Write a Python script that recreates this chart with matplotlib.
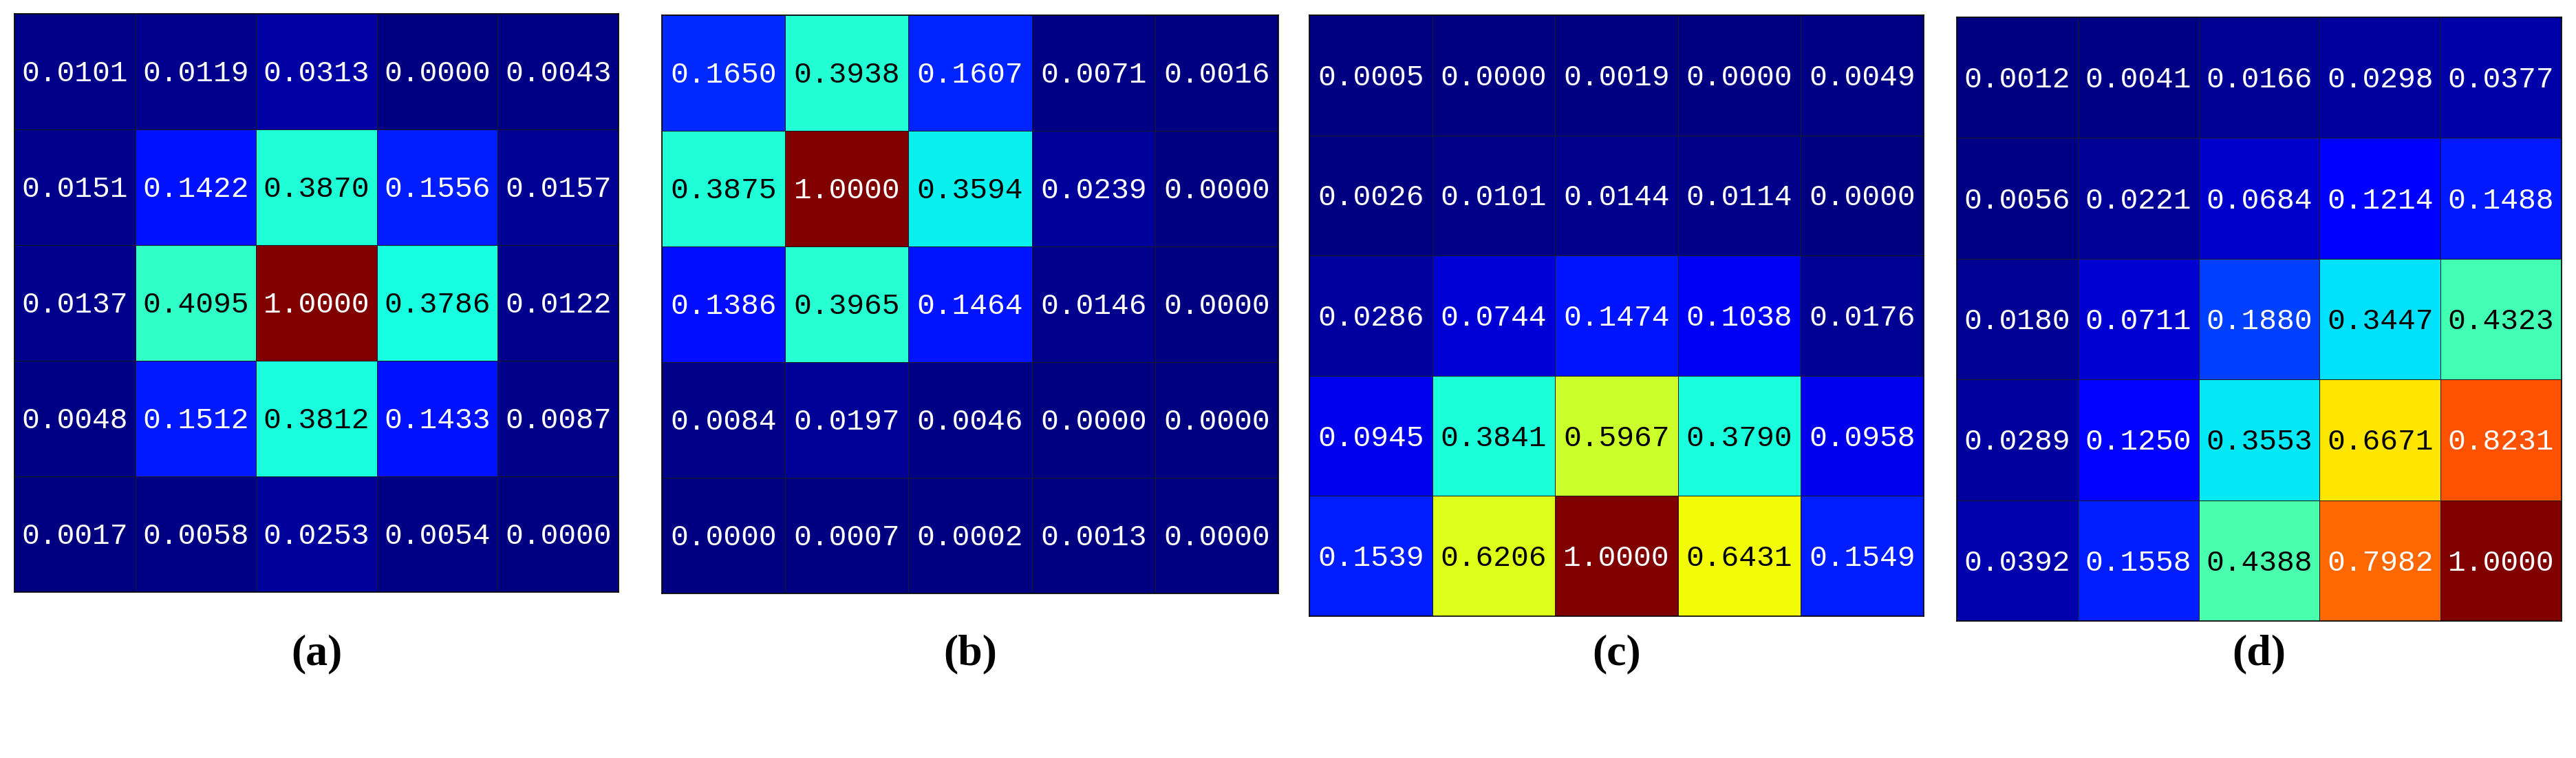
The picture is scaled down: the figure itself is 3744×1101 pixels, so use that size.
import numpy as np
import matplotlib.pyplot as plt

# Valores dos mapas (a)-(d)
mapa_a = np.array([[0.0101, 0.0119, 0.0313, 0.0000, 0.0043],
                   [0.0151, 0.1422, 0.3870, 0.1556, 0.0157],
                   [0.0137, 0.4095, 1.0000, 0.3786, 0.0122],
                   [0.0048, 0.1512, 0.3812, 0.1433, 0.0087],
                   [0.0017, 0.0058, 0.0253, 0.0054, 0.0000]])
mapa_b = np.array([[0.1650, 0.3938, 0.1607, 0.0071, 0.0016],
                   [0.3875, 1.0000, 0.3594, 0.0239, 0.0000],
                   [0.1386, 0.3965, 0.1464, 0.0146, 0.0000],
                   [0.0084, 0.0197, 0.0046, 0.0000, 0.0000],
                   [0.0000, 0.0007, 0.0002, 0.0013, 0.0000]])
mapa_c = np.array([[0.0005, 0.0000, 0.0019, 0.0000, 0.0049],
                   [0.0026, 0.0101, 0.0144, 0.0114, 0.0000],
                   [0.0286, 0.0744, 0.1474, 0.1038, 0.0176],
                   [0.0945, 0.3841, 0.5967, 0.3790, 0.0958],
                   [0.1539, 0.6206, 1.0000, 0.6431, 0.1549]])
mapa_d = np.array([[0.0012, 0.0041, 0.0166, 0.0298, 0.0377],
                   [0.0056, 0.0221, 0.0684, 0.1214, 0.1488],
                   [0.0180, 0.0711, 0.1880, 0.3447, 0.4323],
                   [0.0289, 0.1250, 0.3553, 0.6671, 0.8231],
                   [0.0392, 0.1558, 0.4388, 0.7982, 1.0000]])
mapas = [mapa_a, mapa_b, mapa_c, mapa_d]
rotulos = ['(a)', '(b)', '(c)', '(d)']

W, H = 3744, 1101
fig = plt.figure(figsize=(W / 100, H / 100), dpi=100)

# posicoes em pixels: (x0, x1, y0, y1)
caixas = [(21, 899, 20, 860), (962, 1858, 22, 862),
          (1903, 2796, 22, 895), (2844, 3723, 25, 902)]

for m, rot, (x0, x1, y0, y1) in zip(mapas, rotulos, caixas):
    ax = fig.add_axes([x0 / W, 1 - y1 / H, (x1 - x0) / W, (y1 - y0) / H])
    ax.pcolormesh(m, cmap='jet', vmin=0, vmax=1, edgecolors='#1a1a1a', linewidth=0.5)
    ax.set_xlim(0, 5)
    ax.set_ylim(5, 0)
    ax.set_xticks([])
    ax.set_yticks([])
    for s in ax.spines.values():
        s.set_linewidth(1.2)
    for i in range(5):
        for j in range(5):
            v = m[i, j]
            cor = 'black' if 0.3 < v < 0.75 else 'white'
            ax.text(j + 0.5, i + 0.52, f'{v:.4f}', ha='center', va='center',
                    color=cor, fontsize=31, family='Liberation Mono')
    fig.text((x0 + x1) / 2 / W, 1 - 950 / H, rot, ha='center', va='center',
             fontsize=46, fontweight='bold', family='Liberation Serif')

fig.savefig('out.png', dpi=100)
